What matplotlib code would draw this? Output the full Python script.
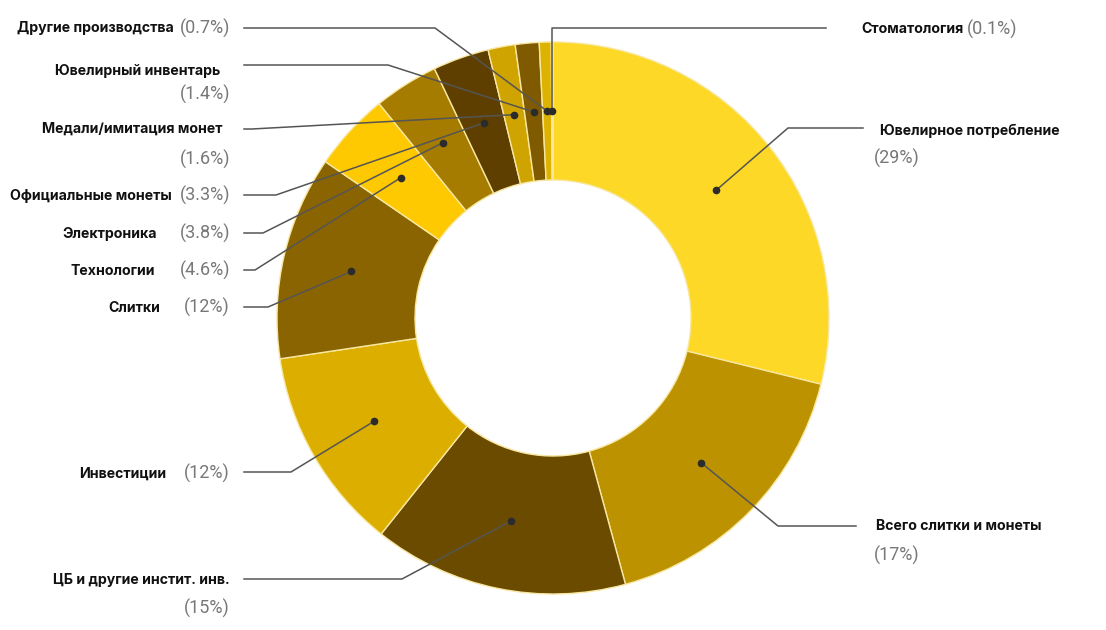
import matplotlib
matplotlib.use("Agg")
import matplotlib.pyplot as plt
import numpy as np

categories = ["Ювелирное потребление", "Всего слитки и монеты", "ЦБ и другие инстит. инв.",
              "Инвестиции", "Слитки", "Технологии", "Электроника", "Официальные монеты",
              "Медали/имитация монет", "Ювелирный инвентарь", "Другие производства", "Стоматология"]
shares = [29, 17, 15, 12, 12, 4.6, 3.8, 3.3, 1.6, 1.4, 0.7, 0.1]
pct_labels = ["(29%)", "(17%)", "(15%)", "(12%)", "(12%)", "(4.6%)", "(3.8%)",
              "(3.3%)", "(1.6%)", "(1.4%)", "(0.7%)", "(0.1%)"]
colors = ["#FDD826", "#BC9200", "#6B4B00", "#DBAE00", "#8A6400", "#FEC900",
          "#A67C00", "#5E3F00", "#CFA300", "#7F5A00", "#DDB200", "#F2D04A"]

W, H = 1106, 630

# label layout in pixels (y from top): line_y, elbow_x, line_end_x, name (x, y, ha), pct (x, y, ha)
layout = [
    (128, 788, 863, (880, 131, "left"), (874, 158, "left")),
    (526, 778, 856, (876, 526, "left"), (874, 555, "left")),
    (579, 402, 244, (230, 580, "right"), (230, 608, "right")),
    (472, 291, 244, (166, 474, "right"), (230, 473, "right")),
    (307, 268, 244, (160, 308, "right"), (230, 307, "right")),
    (270, 255, 244, (155, 271, "right"), (230, 270, "right")),
    (233, 263, 244, (157, 234, "right"), (230, 233, "right")),
    (195, 276, 244, (172, 196, "right"), (230, 195, "right")),
    (129, 252, 244, (223, 129, "right"), (230, 159, "right")),
    (65, 388, 244, (220, 71, "right"), (230, 94, "right")),
    (28, 435, 244, (174, 28, "right"), (230, 28, "right")),
    (28, None, 826, (861, 29, "left"), (None, 29, "left")),
]

fig = plt.figure(figsize=(W / 100, H / 100), dpi=100)
ax = fig.add_axes([0, 0, 1, 1])

cx, cy, R = 553, H - 318, 276
wedges, _ = ax.pie(shares, colors=colors, startangle=90, counterclock=False,
                   center=(cx, cy), radius=R,
                   wedgeprops=dict(width=R * 0.5, edgecolor="#F7E7A0", linewidth=1))
ax.set_xlim(0, W)
ax.set_ylim(0, H)
ax.set_aspect("equal")
ax.axis("off")

name_font = dict(family=["Inter", "DejaVu Sans"], fontweight="bold", fontsize=10.2, color="#111111")
pct_font = dict(family=["Roboto", "DejaVu Sans"], fontweight="normal", fontsize=13, color="#787878")

for i, w in enumerate(wedges):
    mid = np.deg2rad((w.theta1 + w.theta2) / 2)
    dx = cx + 0.75 * R * np.cos(mid)
    dy = cy + 0.75 * R * np.sin(mid)
    line_y, elbow_x, end_x, name_pos, pct_pos = layout[i]
    ly = H - line_y
    ex = dx if elbow_x is None else elbow_x
    ax.plot([dx, ex, end_x], [dy, ly, ly], color="#555555", lw=1.1, zorder=3)
    ax.plot(dx, dy, "o", color="#2b2b2b", ms=4.5, zorder=4)
    nx, ny, nha = name_pos
    t = ax.text(nx, H - ny, categories[i], ha=nha, va="center", **name_font)
    px, py, pha = pct_pos
    if px is None:
        # percentage continues the name on the same line
        fig.canvas.draw()
        bb = t.get_window_extent()
        px = bb.x1 + 4
    ax.text(px, H - py, pct_labels[i], ha=pha, va="center", **pct_font)

fig.savefig("out.png", dpi=100)
